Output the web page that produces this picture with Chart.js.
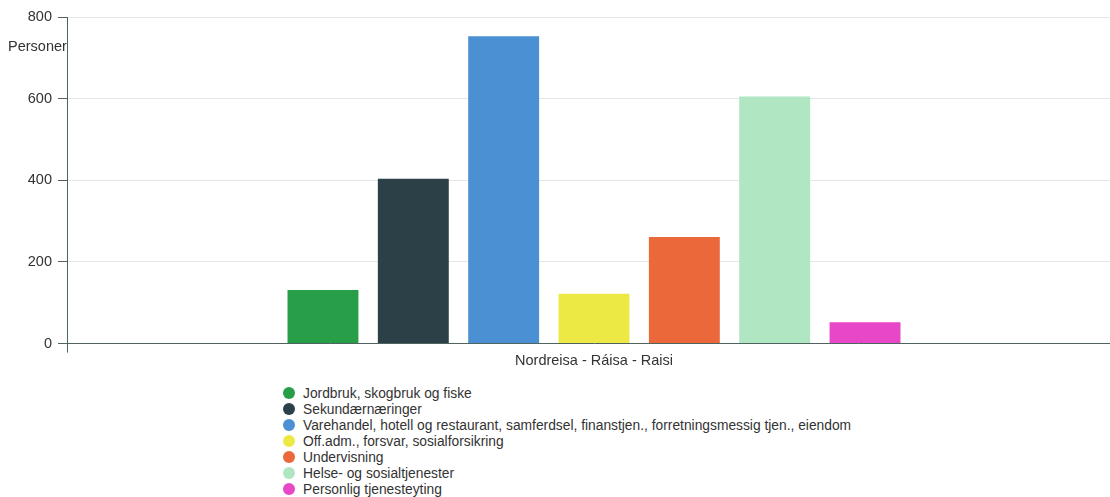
<!DOCTYPE html>
<html>
<head>
<meta charset="utf-8">
<script src="https://cdn.jsdelivr.net/npm/chart.js@4"></script>
<style>
  body { margin: 0; overflow: hidden; background: #fff; font-family: "Liberation Sans", Arial, sans-serif; }
  #wrap { position: relative; width: 1122px; height: 497px; }
  #box { position: absolute; left: 0; top: 0; width: 1122px; height: 370px; }
  #legend { position: absolute; left: 283px; top: 386px; margin: 0; padding: 0; list-style: none; }
  #legend li { height: 16px; line-height: 16px; font-size: 13.8px; color: #333; white-space: nowrap; }
  #legend span { display: inline-block; width: 12px; height: 12px; border-radius: 50%; margin-right: 8px; vertical-align: -1px; }
</style>
</head>
<body>
<div id="wrap">
  <div id="box"><canvas id="chart"></canvas></div>
  <ul id="legend"></ul>
</div>
<script>
// one municipality, seven industry groups
const categories = ['Nordreisa - Ráisa - Raisi'];
const industries = [
  'Jordbruk, skogbruk og fiske',
  'Sekundærnæringer',
  'Varehandel, hotell og restaurant, samferdsel, finanstjen., forretningsmessig tjen., eiendom',
  'Off.adm., forsvar, sosialforsikring',
  'Undervisning',
  'Helse- og sosialtjenester',
  'Personlig tjenesteyting'
];
const persons = [131, 404, 753, 122, 261, 605, 52];
const colors = ['#299e48', '#2b4047', '#4a90d2', '#ece944', '#ea683a', '#b0e6c1', '#e847c8'];
const yTicks = [0, 200, 400, 600, 800];

const axisColor = '#4f6461';
const fontFamily = '"Liberation Sans", Arial, sans-serif';

// "Personer" sits under the top tick, like the original
const unitLabel = {
  id: 'unitLabel',
  afterDraw(chart) {
    const y = chart.scales.y;
    const ctx = chart.ctx;
    ctx.save();
    ctx.font = '14.5px ' + fontFamily;
    ctx.fillStyle = '#333';
    ctx.textAlign = 'left';
    ctx.textBaseline = 'middle';
    ctx.fillText('Personer', 8, y.getPixelForValue(800) + 30);
    ctx.restore();
  }
};

const chart = new Chart(document.getElementById('chart'), {
  type: 'bar',
  data: {
    labels: categories,
    datasets: industries.map((name, i) => ({
      label: name,
      data: [persons[i]],
      backgroundColor: colors[i],
      borderWidth: 0,
      categoryPercentage: 0.6,
      barPercentage: 0.785
    }))
  },
  options: {
    responsive: true,
    maintainAspectRatio: false,
    animation: false,
    layout: { padding: { top: 17, right: 1, bottom: 0, left: 0 } },
    plugins: {
      legend: { display: false },
      tooltip: { enabled: false }
    },
    scales: {
      x: {
        grid: { display: true, drawOnChartArea: false, tickLength: 9, color: axisColor, offset: true },
        border: { display: true, color: axisColor, width: 1 },
        ticks: { color: '#333', padding: 0, font: { size: 14.5, family: fontFamily } }
      },
      y: {
        min: 0,
        max: 800,
        afterFit(scale) { scale.width = 67; },
        afterBuildTicks(scale) { scale.ticks = yTicks.map(v => ({ value: v })); },
        grid: { color: '#e6e6e6', tickColor: axisColor, tickLength: 9 },
        border: { display: true, color: axisColor, width: 1 },
        ticks: { color: '#333', padding: 6, font: { size: 14.5, family: fontFamily } }
      }
    }
  },
  plugins: [unitLabel]
});

// legend as a plain list, one entry per line
const ul = document.getElementById('legend');
chart.data.datasets.forEach(ds => {
  const li = document.createElement('li');
  const dot = document.createElement('span');
  dot.style.background = ds.backgroundColor;
  li.appendChild(dot);
  li.appendChild(document.createTextNode(ds.label));
  ul.appendChild(li);
});
</script>
</body>
</html>
